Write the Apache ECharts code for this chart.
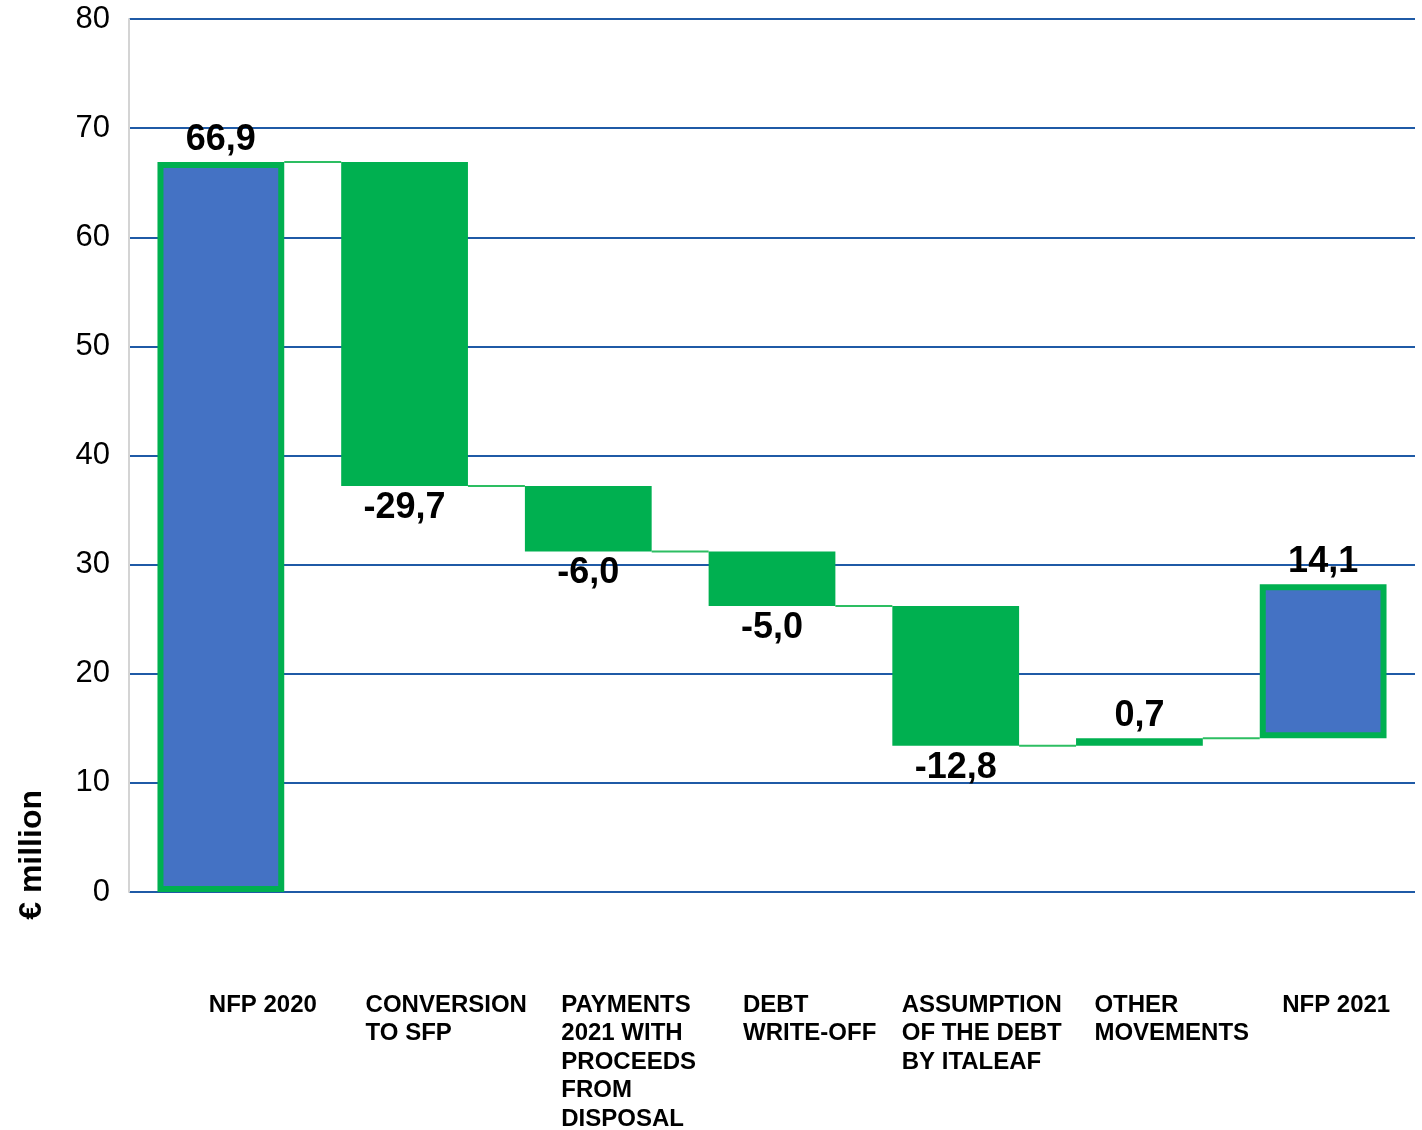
<!DOCTYPE html>
<html>
<head>
<meta charset="utf-8">
<script src="https://cdn.jsdelivr.net/npm/echarts@6/dist/echarts.min.js"></script>
<style>
  html, body { margin: 0; padding: 0; background: #fff; }
  #chart { width: 1422px; height: 1130px; }
</style>
</head>
<body>
<div id="chart"></div>
<script>
// categories (line breaks as in the source)
var categories = [
    'NFP 2020',
    'CONVERSION\nTO SFP',
    'PAYMENTS\n2021 WITH\nPROCEEDS\nFROM\nDISPOSAL',
    'DEBT\nWRITE-OFF',
    'ASSUMPTION\nOF THE DEBT\nBY ITALEAF',
    'OTHER\nMOVEMENTS',
    'NFP 2021'
];
// 'total' bars are blue with a green border, 'delta' bars are plain green
var kinds = ['total', 'delta', 'delta', 'delta', 'delta', 'delta', 'total'];
var deltas = [66.9, -29.7, -6.0, -5.0, -12.8, 0.7, 14.1];
// the NFP 2021 bar is drawn floating on top of the running level in the source
var yTicks = {min: 0, max: 80, interval: 10};
// left shift of each x label relative to its tick
var labelShift = [-12, -39, -27, -29, -54, -45, -41];

var GREEN = '#00B050';
var BLUE = '#4472C4';
var BAR_RATIO = 0.69;
var FONT = "'Liberation Sans', Arial, sans-serif";

/**
 * Build the invisible base and the visible height for each bar.
 */
function buildWaterfall() {
    var base = [], height = [], levels = [];
    var level = 0;
    for (var i = 0; i < deltas.length; i++) {
        var d = deltas[i];
        if (i === 0) {
            base.push(0);
            height.push(d);
            level = d;
        } else if (kinds[i] === 'total') {
            base.push(level);
            height.push(d);
        } else {
            var next = Math.round((level + d) * 10) / 10;
            base.push(Math.min(level, next));
            height.push(Math.abs(d));
            level = next;
        }
        levels.push(level);
    }
    return {base: base, height: height, levels: levels};
}

function fmt(v) {
    return v.toFixed(1).replace('.', ',');
}

var wf = buildWaterfall();

var barData = wf.height.map(function (h, i) {
    var total = kinds[i] === 'total';
    return {
        value: h,
        itemStyle: total
            ? {color: BLUE, borderColor: GREEN, borderWidth: 6}
            : {color: GREEN},
        label: {
            show: true,
            position: deltas[i] < 0 ? 'bottom' : 'top',
            distance: 4,
            formatter: fmt(deltas[i])
        }
    };
});

var catData = categories.map(function (c, i) {
    return {value: c, textStyle: {align: 'left', padding: [0, 0, 0, labelShift[i]]}};
});

var chart = echarts.init(document.getElementById('chart'));

var option = {
    animation: false,
    grid: {left: 129, right: 7, top: 19, bottom: 238, containLabel: false, outerBoundsMode: 'none'},
    xAxis: {
        type: 'category',
        data: catData,
        axisLine: {show: false},
        axisTick: {show: false},
        axisLabel: {
            interval: 0,
            align: 'left',
            verticalAlign: 'top',
            margin: 99,
            color: '#000',
            fontFamily: FONT,
            fontWeight: 'bold',
            fontSize: 24,
            lineHeight: 28.5
        }
    },
    yAxis: {
        type: 'value',
        min: yTicks.min,
        max: yTicks.max,
        interval: yTicks.interval,
        axisLine: {show: true, lineStyle: {color: '#D4D4D4', width: 2}},
        axisTick: {show: false},
        splitLine: {lineStyle: {color: '#1F5AA6', width: 2}},
        axisLabel: {
            margin: 19,
            color: '#000',
            fontFamily: FONT,
            fontSize: 31
        }
    },
    graphic: [{
        type: 'text',
        left: 16,
        top: 790,
        rotation: Math.PI / 2,
        style: {
            text: '€ million',
            fill: '#000',
            font: 'bold 32px ' + FONT
        }
    }],
    series: [
        {
            name: 'base',
            type: 'bar',
            stack: 'wf',
            barWidth: (BAR_RATIO * 100) + '%',
            itemStyle: {color: 'transparent'},
            emphasis: {disabled: true},
            data: wf.base
        },
        {
            name: 'value',
            type: 'bar',
            stack: 'wf',
            barWidth: (BAR_RATIO * 100) + '%',
            label: {
                color: '#000',
                fontFamily: FONT,
                fontWeight: 'bold',
                fontSize: 36
            },
            data: barData,
            z: 3
        },
        {
            name: 'connectors',
            type: 'custom',
            z: 2,
            encode: {x: 0, y: 1},
            data: wf.levels.slice(0, -1).map(function (v, i) { return [i, v]; }),
            renderItem: function (params, api) {
                var i = api.value(0), lvl = api.value(1);
                var a = api.coord([i, lvl]);
                var b = api.coord([i + 1, lvl]);
                var half = api.size([1, 0])[0] * BAR_RATIO / 2;
                return {
                    type: 'line',
                    shape: {x1: a[0] + half, y1: a[1], x2: b[0] - half, y2: b[1]},
                    style: {stroke: '#2DBE62', lineWidth: 2}
                };
            }
        }
    ]
};

chart.setOption(option);

window.onresize = function () {
    chart.resize();
};
</script>
</body>
</html>
